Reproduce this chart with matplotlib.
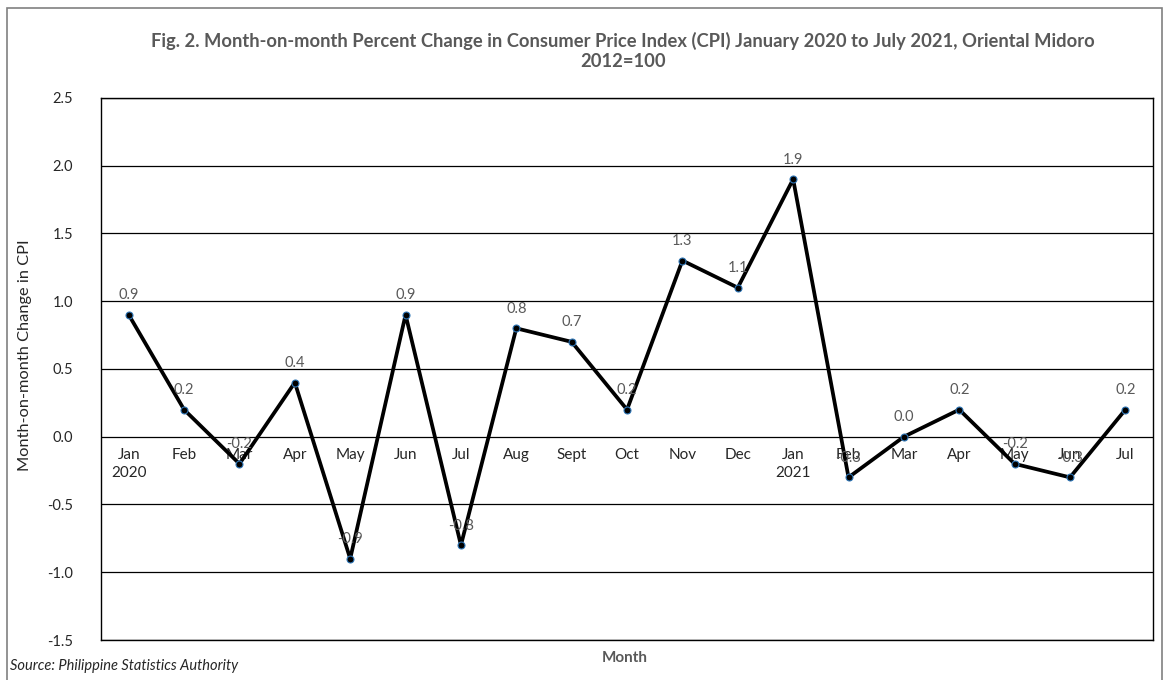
import matplotlib
matplotlib.use('Agg')

import matplotlib.pyplot as plt
from matplotlib.patches import Rectangle

plt.rcParams['font.family'] = ['Lato', 'DejaVu Sans']

# Datos
meses = ['Jan\n2020', 'Feb', 'Mar', 'Apr', 'May', 'Jun', 'Jul', 'Aug', 'Sept', 'Oct',
         'Nov', 'Dec', 'Jan\n2021', 'Feb', 'Mar', 'Apr', 'May', 'Jun', 'Jul']
cambio = [0.9, 0.2, -0.2, 0.4, -0.9, 0.9, -0.8, 0.8, 0.7, 0.2,
          1.3, 1.1, 1.9, -0.3, 0.0, 0.2, -0.2, -0.3, 0.2]
yticks = [-1.5, -1.0, -0.5, 0.0, 0.5, 1.0, 1.5, 2.0, 2.5]

gris = '#595959'

fig = plt.figure(figsize=(11.64, 6.8), dpi=100)
ax = fig.add_axes([0.0868, 0.0588, 0.9038, 0.7972])

# marco exterior
fig.patches.append(Rectangle((0.006, -0.01), 0.992, 0.998, transform=fig.transFigure,
                             fill=False, edgecolor='#808080', linewidth=1.2))

x = list(range(len(meses)))
ax.plot(x, cambio, color='black', linewidth=2.7, marker='o', markersize=5,
        markerfacecolor='black', markeredgecolor='#2e75b6', markeredgewidth=0.8, zorder=3)

for xi, v in zip(x, cambio):
    ax.annotate(f'{v:.1f}', (xi, v), xytext=(0, 9), textcoords='offset points',
                ha='center', va='bottom', fontsize=10.5, color=gris, zorder=4)

# etiquetas de categoria sobre el eje cero
for xi, m in zip(x, meses):
    ax.text(xi, -0.08, m, ha='center', va='top', fontsize=11, color='#262626',
            linespacing=1.4, zorder=2)

ax.set_xlim(-0.5, len(meses) - 0.5)
ax.set_ylim(-1.5, 2.5)
ax.set_yticks(yticks)
ax.set_yticklabels([f'{t:.1f}' for t in yticks], fontsize=10.5, color='#262626')
ax.tick_params(axis='y', length=0, pad=20)
ax.set_xticks([])
ax.yaxis.grid(True, color='black', linewidth=0.9)
ax.set_axisbelow(True)
for s in ax.spines.values():
    s.set_color('black')
    s.set_linewidth(1.0)

ax.set_ylabel('Month-on-month Change in CPI', fontsize=11.8, color='#262626')
ax.yaxis.set_label_coords(-0.066, 0.525)

fig.text(0.535, 0.925, 'Fig. 2. Month-on-month Percent Change in Consumer Price Index (CPI) January 2020 to July 2021, Oriental Midoro\n2012=100',
         ha='center', va='center', fontsize=13.2, fontweight='bold', color=gris, linespacing=1.2)
fig.text(0.537, 0.033, 'Month', ha='center', va='center', fontsize=11,
         fontweight='bold', color=gris)
fig.text(0.009, 0.02, 'Source: Philippine Statistics Authority', ha='left', va='center',
         fontsize=10.5, style='italic', color='#262626')

fig.savefig('out.png', dpi=100)
